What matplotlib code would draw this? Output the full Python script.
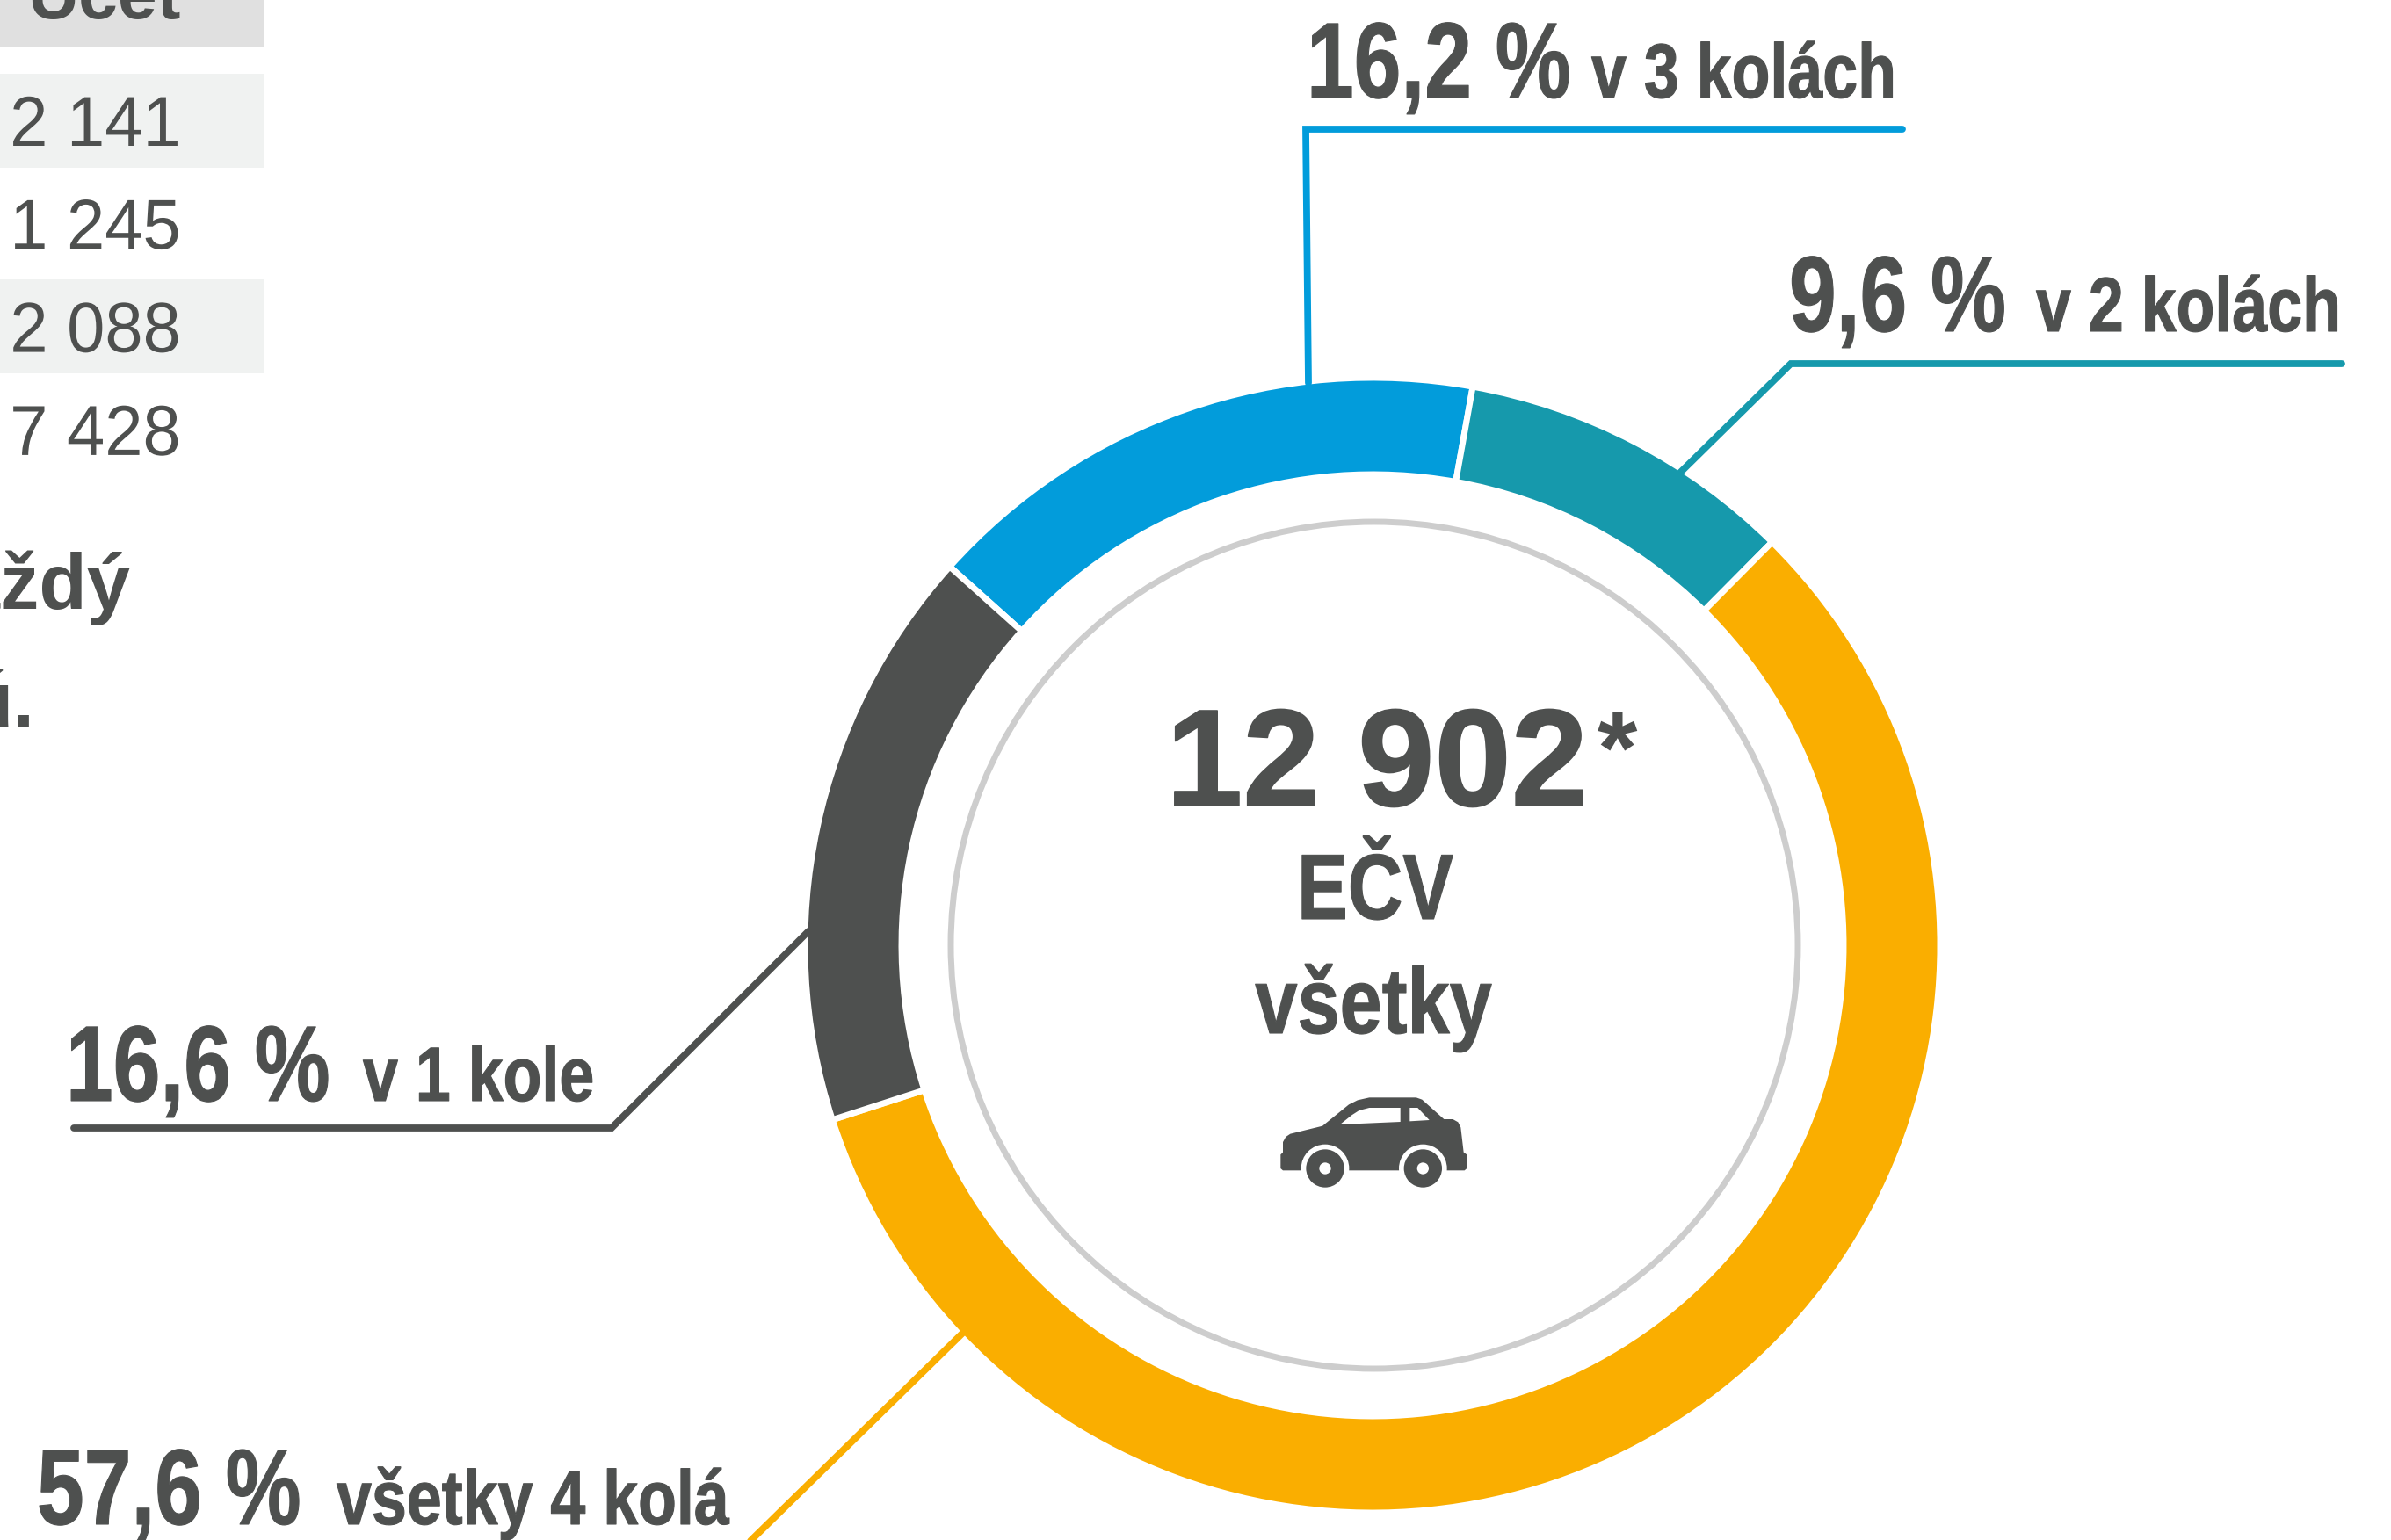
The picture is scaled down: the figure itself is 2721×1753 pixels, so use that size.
import matplotlib
matplotlib.use('Agg')
import matplotlib.pyplot as plt
from matplotlib.patches import Circle, Polygon, Rectangle
from matplotlib.patheffects import AbstractPathEffect, withStroke
from matplotlib.text import Text
from matplotlib.transforms import Affine2D, Bbox

# Rozdelenie vozidiel podla poctu kol
shares = [16.2, 9.6, 57.6, 16.6]
share_labels = ['16,2 %', '9,6 %', '57,6 %', '16,6 %']
round_labels = ['v 3 kolách', 'v 2 kolách', 'všetky 4 kolá', 'v 1 kole']
ring_colors = ['#029CDB', '#1699AC', '#FAAE00', '#4E504F']
table_header = 'Účet'
table_values = ['2 141', '1 245', '2 088', '7 428']
total_label = '12 902'
center_lines = ['EČV', 'všetky']

DARK = '#4E504F'
W, H = 2721, 1753
CX, CY = 1562, 1076
SANS = ['Liberation Sans']


class Squeeze(AbstractPathEffect):
    # zuzi text okolo kotvy, nie je nainstalovany Arial Narrow
    def __init__(self, x0, sx, stroke=0):
        super().__init__()
        self.x0 = x0
        self.sx = sx
        self.stroke = stroke

    def draw_path(self, renderer, gc, tpath, affine, rgbFace=None):
        t = affine + Affine2D().translate(-self.x0, 0).scale(self.sx, 1).translate(self.x0, 0)
        gc.set_linewidth(self.stroke)
        gc.set_foreground(DARK)
        renderer.draw_path(gc, tpath, t, rgbFace)


class NarrowText(Text):
    def __init__(self, x, y, s, sx, stroke=0, **kw):
        super().__init__(x, y, s, path_effects=[Squeeze(x, sx, stroke)], **kw)
        self.sx = sx

    def get_window_extent(self, renderer=None, dpi=None):
        b = super().get_window_extent(renderer, dpi)
        x0 = self.get_position()[0]
        return Bbox.from_extents(x0 + (b.x0 - x0) * self.sx, b.y0,
                                 x0 + (b.x1 - x0) * self.sx, b.y1)


def narrow_text(ax, x, y, s, size, sx=0.82, ha='left', weight='bold', stroke=0.8):
    t = NarrowText(x, y, s, sx, stroke, family=SANS, weight=weight, fontsize=size,
                   color=DARK, va='baseline', ha=ha)
    ax.add_artist(t)
    return t


def draw_car(ax, x0, y0):
    # ikona auta, suradnice z 3x vyrezu
    def pts(items):
        return [(x0 + a / 3, y0 + b / 3) for a, b in items]

    body = [(172, 283), (180, 275), (180, 240), (190, 222), (205, 212), (315, 185),
            (405, 112), (435, 97), (475, 88), (635, 88), (655, 95), (730, 162),
            (760, 162), (778, 172), (787, 190), (797, 275), (808, 283), (808, 330),
            (800, 337), (180, 337), (172, 330)]
    win1 = [(375, 180), (415, 148), (440, 132), (475, 123), (581, 123), (581, 171)]
    win2 = [(613, 123), (640, 123), (680, 165), (613, 169)]
    ax.add_patch(Polygon(pts(body), color=DARK, lw=0))
    ax.add_patch(Polygon(pts(win1), color='white', lw=0))
    ax.add_patch(Polygon(pts(win2), color='white', lw=0))
    for wx in (324, 658):
        c = (x0 + wx / 3, y0 + 330 / 3)
        ax.add_patch(Circle(c, 82 / 3, color='white', lw=0))
        ax.add_patch(Circle(c, 65 / 3, color=DARK, lw=0))
        ax.add_patch(Circle(c, 20 / 3, color='white', lw=0))


def main():
    fig = plt.figure(figsize=(W / 100, H / 100), dpi=100)
    ax = fig.add_axes([0, 0, 1, 1])

    ax.pie(shares, colors=ring_colors, startangle=221.85, counterclock=True,
           radius=646, center=(CX, CY),
           wedgeprops=dict(width=110, edgecolor='white', linewidth=5))
    ax.set_xlim(0, W)
    ax.set_ylim(H, 0)
    ax.set_aspect('equal')
    ax.axis('off')

    ax.add_patch(Circle((CX + 2, CY), 482, fill=False, ec='#CDCDCD', lw=5))

    # leader lines
    leaders = [[(1489, 436), (1486, 147), (2165, 147)],
               [(1912, 538), (2038, 414), (2665, 414)],
               [(1098, 1515), (851, 1757)],
               [(920, 1060), (696, 1284), (84, 1284)]]
    for i in range(4):
        xs, ys = zip(*leaders[i])
        ax.plot(xs, ys, color=ring_colors[i], lw=5.6, solid_capstyle='round',
                solid_joinstyle='miter')

    # popisky
    big_pos = [(1487, 111), (2036, 377), (42, 1735), (75, 1253)]
    small_x = [1811, 2317, 383, 413]
    for i in range(4):
        x, y = big_pos[i]
        narrow_text(ax, x, y, share_labels[i], 88, sx=0.79)
        narrow_text(ax, small_x[i], y, round_labels[i], 63)

    # stred
    ax.text(1327, 917, total_label, family=SANS, weight='bold', fontsize=113, color=DARK,
            va='baseline', ha='left', path_effects=[withStroke(linewidth=1.2, foreground=DARK)])
    ax.text(1818, 891, '*', family=SANS, weight='bold', fontsize=84,
            color=DARK, va='baseline', ha='left')
    narrow_text(ax, 1565, 1046, center_lines[0], 76, ha='center')
    narrow_text(ax, 1563, 1176, center_lines[1], 76, ha='center')
    draw_car(ax, 1400, 1220)

    # tabulka vlavo
    ax.add_patch(Rectangle((0, -10), 300, 64, color='#E0E0E0', lw=0))
    ax.add_patch(Rectangle((0, 84), 300, 107, color='#F0F2F1', lw=0))
    ax.add_patch(Rectangle((0, 318), 300, 107, color='#F0F2F1', lw=0))
    ax.text(205, 21, table_header, family=SANS, weight='bold', fontsize=58,
            color=DARK, va='baseline', ha='right')
    for i, v in enumerate(table_values):
        narrow_text(ax, 205.5, 166 + i * 117.3, v, 58, sx=0.965, ha='right',
                    weight='normal', stroke=0)

    ax.text(149, 693, 'každý', family=SANS, weight='bold', fontsize=64, color=DARK,
            va='baseline', ha='right')
    ax.text(40, 827, 'ú.', family=SANS, weight='bold', fontsize=64, color=DARK,
            va='baseline', ha='right')

    fig.savefig('out.png', dpi=100, facecolor='white')


if __name__ == '__main__':
    main()
